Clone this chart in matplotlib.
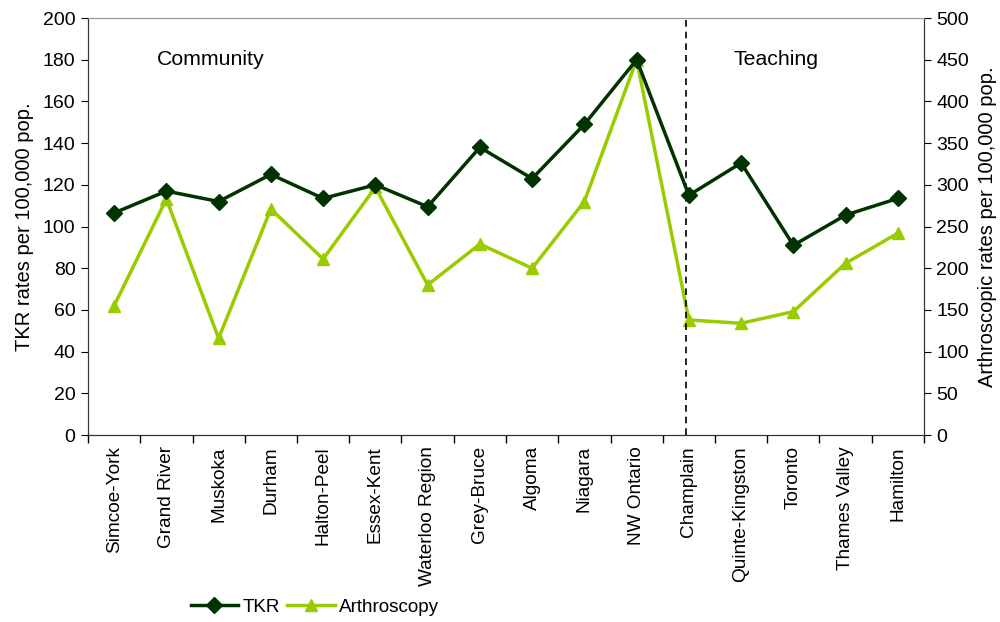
import matplotlib.pyplot as plt
import numpy as np

plt.rcParams['font.family'] = ['Liberation Sans', 'DejaVu Sans']

regions = ["Simcoe-York", "Grand River", "Muskoka", "Durham", "Halton-Peel",
           "Essex-Kent", "Waterloo Region", "Grey-Bruce", "Algoma", "Niagara",
           "NW Ontario", "Champlain", "Quinte-Kingston", "Toronto",
           "Thames Valley", "Hamilton"]
tkr = [106.5, 117, 112, 125, 113.5, 120, 109.5, 138, 123, 149, 180,
       115, 130.5, 91, 105.5, 113.5]
arthro = [155, 283, 116, 271, 211, 297, 180, 229, 200, 280, 450,
          138, 134, 148, 206, 242]

dark = '#003300'
light = '#99cc00'

fig = plt.figure(figsize=(10, 6.22), dpi=100)
ax = fig.add_axes([0.088, 0.3006, 0.836, 0.6704])
ax2 = ax.twinx()

x = np.arange(len(regions))
l1, = ax.plot(x, tkr, color=dark, lw=2.5, marker='D', ms=8.5, label='TKR', zorder=3)
l2, = ax2.plot(x, arthro, color=light, lw=2.5, marker='^', ms=9, label='Arthroscopy', zorder=2)
ax.set_zorder(ax2.get_zorder() + 1)
ax.patch.set_visible(False)

ax.set_xlim(-0.5, len(regions) - 0.5)
ax.set_ylim(0, 200)
ax2.set_ylim(0, 500)
ax.set_yticks(np.arange(0, 201, 20))
ax2.set_yticks(np.arange(0, 501, 50))

ax.set_xticks(x)
ax.set_xticklabels(regions, rotation=90, fontsize=13.7)
ax.tick_params(axis='x', which='major', length=0, pad=8)
ax.set_xticks(np.arange(-0.5, len(regions), 1), minor=True)
ax.tick_params(axis='x', which='minor', length=6, direction='out', width=1)
ax.tick_params(axis='y', labelsize=14, direction='out', length=5, pad=4)
ax2.tick_params(axis='y', labelsize=14, direction='out', length=5, pad=4)

ax.set_ylabel('TKR rates per 100,000 pop.', fontsize=14.5, labelpad=6)
ax2.set_ylabel('Arthroscopic rates per 100,000 pop.', fontsize=14.5, labelpad=6)

for a in (ax, ax2):
    a.spines['top'].set_color('#999999')
    a.spines['left'].set_color('#333333')
    a.spines['right'].set_color('#333333')
    a.spines['bottom'].set_color('#333333')

ax.axvline(10.95, color='black', ls='--', lw=1.2, dashes=(4, 3))
ax.text(0.82, 180, 'Community', fontsize=15.3, va='center', ha='left')
ax.text(11.85, 180, 'Teaching', fontsize=15.3, va='center', ha='left')

fig.legend([l1, l2], ['TKR', 'Arthroscopy'], loc='center', bbox_to_anchor=(0.315, 0.024),
           ncol=2, frameon=False, fontsize=13.6, handlelength=2.5, columnspacing=0.4,
           handletextpad=0.25)

fig.savefig('out.png', dpi=100)
